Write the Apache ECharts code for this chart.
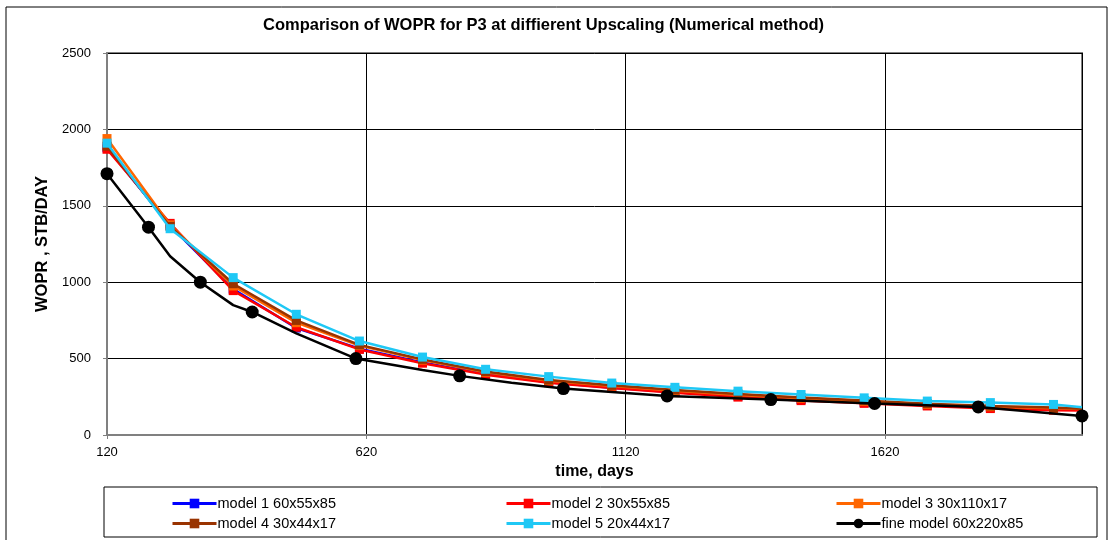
<!DOCTYPE html>
<html>
<head>
<meta charset="utf-8">
<script src="https://cdn.jsdelivr.net/npm/echarts@6/dist/echarts.min.js"></script>
<style>
html,body{margin:0;padding:0;background:#fff;}
#chart{width:1110px;height:540px;}
</style>
</head>
<body>
<div id="chart"></div>
<script>
// ---- data ----
const titleText = 'Comparison of WOPR for P3 at diffierent Upscaling (Numerical method)';
const xAxisTitle = 'time, days';
const yAxisTitle = 'WOPR , STB/DAY';
const seriesNames = ['model 1 60x55x85', 'model 2 30x55x85', 'model 3 30x110x17',
                     'model 4 30x44x17', 'model 5 20x44x17', 'fine model 60x220x85'];

const modelTimes  = [120, 241.7, 363.3, 485, 606.7, 728.3, 850, 971.7, 1093.3, 1215, 1336.7, 1458.3, 1580, 1701.7, 1823.3, 1945, 2000];
const modelMarked = [1, 1, 1, 1, 1, 1, 1, 1, 1, 1, 1, 1, 1, 1, 1, 1, 0];
const model1 = [1880, 1370, 955, 700, 565, 475, 400, 345, 310, 280, 255, 232, 212, 195, 180, 170, 165];
const model2 = [1870, 1385, 945, 705, 560, 470, 395, 342, 308, 277, 248, 225, 207, 190, 173, 162, 160];
const model3 = [1940, 1375, 975, 735, 585, 490, 410, 355, 320, 290, 262, 240, 220, 200, 185, 175, 170];
const model4 = [1890, 1365, 990, 750, 590, 495, 415, 360, 325, 295, 268, 245, 225, 205, 190, 180, 172];
const model5 = [1910, 1350, 1030, 790, 615, 510, 430, 382, 340, 312, 287, 265, 243, 222, 212, 200, 182];

const fineTimes  = [120, 200, 241.7, 300, 363.3, 400, 485, 600, 728.3, 800, 900, 1000, 1200, 1400, 1600, 1800, 2000];
const fineValues = [1710, 1360, 1170, 1000, 850, 805, 665, 500, 425, 387, 342, 304, 256, 232, 206, 184, 125];
const fineMarked = [1, 1, 0, 1, 0, 1, 0, 1, 0, 1, 0, 1, 1, 1, 1, 1, 1];

const xMin = 120, xMax = 2000, xStep = 500;
const yMin = 0, yMax = 2500, yStep = 500;

// ---- build ----
function pts(times, vals, marked) {
  return times.map((t, i) => marked[i] ? [t, vals[i]] : {value: [t, vals[i]], symbol: 'none'});
}
const colors = ['#0000FF', '#FF0000', '#FF6600', '#993300', '#1FC8F5', '#000000'];
const modelVals = [model1, model2, model3, model4, model5];

const series = modelVals.map((v, k) => ({
  name: seriesNames[k],
  type: 'line',
  data: pts(modelTimes, v, modelMarked),
  symbol: 'rect',
  symbolSize: 9,
  showAllSymbol: true,
  lineStyle: {width: 2.5, color: colors[k]},
  itemStyle: {color: colors[k]},
  animation: false,
  z: 3 + k
}));
series.push({
  name: seriesNames[5],
  type: 'line',
  data: pts(fineTimes, fineValues, fineMarked),
  symbol: 'circle',
  symbolSize: 13,
  showAllSymbol: true,
  lineStyle: {width: 2.5, color: colors[5]},
  itemStyle: {color: colors[5]},
  animation: false,
  z: 10
});

const font = 'Liberation Sans, Arial, sans-serif';
const legendCommon = {
  orient: 'vertical', top: 496, itemGap: 5, itemWidth: 44, itemHeight: 12,
  lineStyle: {width: 3},
  textStyle: {fontFamily: font, fontSize: 14.5, color: '#000', padding: [0, 0, 0, -4]},
  padding: 0
};
const plain = v => String(v);

const chart = echarts.init(document.getElementById('chart'), null, {renderer: 'canvas'});
chart.setOption({
  backgroundColor: '#fff',
  animation: false,
  title: {
    text: titleText, left: 263, top: 17, padding: 0,
    textStyle: {fontFamily: font, fontSize: 16.5, fontWeight: 'bold', color: '#000'}
  },
  grid: {left: 107, right: 28, top: 53, bottom: 105, containLabel: false,
         show: true, borderColor: '#808080', borderWidth: 2},
  legend: [
    Object.assign({}, legendCommon, {left: 171, data: [seriesNames[0], seriesNames[3]]}),
    Object.assign({}, legendCommon, {left: 505, data: [seriesNames[1], seriesNames[4]]}),
    Object.assign({}, legendCommon, {left: 835, data: [seriesNames[2], seriesNames[5]]})
  ],
  xAxis: {
    type: 'value', min: xMin, max: xMax, interval: xStep,
    name: xAxisTitle, nameLocation: 'middle', nameGap: 29,
    nameTextStyle: {fontFamily: font, fontSize: 16, fontWeight: 'bold', color: '#000'},
    axisLine: {show: true, lineStyle: {color: '#808080', width: 2}},
    axisTick: {show: true, length: 4, lineStyle: {color: '#808080'}},
    axisLabel: {fontFamily: font, fontSize: 13, color: '#000', margin: 11, showMaxLabel: false, formatter: plain},
    splitLine: {show: true, lineStyle: {color: '#000', width: 1}}
  },
  yAxis: {
    type: 'value', min: yMin, max: yMax, interval: yStep,
    name: yAxisTitle, nameLocation: 'middle', nameGap: 56, nameRotate: 90,
    nameTextStyle: {fontFamily: font, fontSize: 16.5, fontWeight: 'bold', color: '#000'},
    axisLine: {show: true, lineStyle: {color: '#808080', width: 2}},
    axisTick: {show: true, length: 4, lineStyle: {color: '#808080'}},
    axisLabel: {fontFamily: font, fontSize: 13, color: '#000', margin: 16, formatter: plain},
    splitLine: {show: true, lineStyle: {color: '#000', width: 1}}
  },
  graphic: [
    {type: 'rect', shape: {x: 6, y: 7, width: 1101, height: 545}, style: {fill: 'none', stroke: '#000', lineWidth: 1}, silent: true, z: -1},
    {type: 'rect', shape: {x: 104, y: 487, width: 993, height: 50}, style: {fill: 'none', stroke: '#000', lineWidth: 1}, silent: true}
  ],
  series: series
});
</script>
</body>
</html>
